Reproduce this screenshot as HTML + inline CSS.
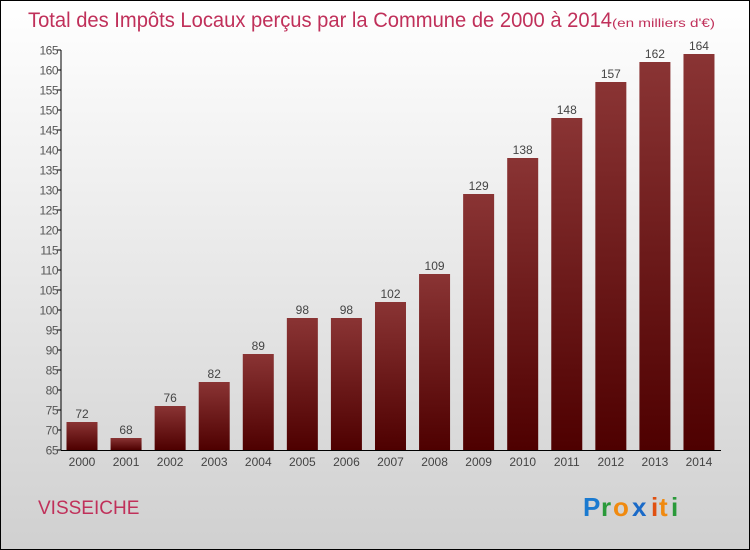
<!DOCTYPE html>
<html><head><meta charset="utf-8"><style>
body{margin:0}
svg{display:block;font-family:"Liberation Sans",sans-serif}
</style></head><body>
<svg width="750" height="550" viewBox="0 0 750 550">
<defs>
<linearGradient id="bg" x1="0" y1="0" x2="0" y2="1"><stop offset="0" stop-color="#ffffff"/><stop offset="1" stop-color="#d0d0d0"/></linearGradient>
<linearGradient id="bar" x1="0" y1="0" x2="0" y2="1"><stop offset="0" stop-color="#8a3434"/><stop offset="1" stop-color="#4e0000"/></linearGradient>
</defs>
<rect x="0.5" y="0.5" width="749" height="549" fill="url(#bg)" stroke="#000"/>
<text x="28" y="27" font-size="21" fill="#c0305a" textLength="584" lengthAdjust="spacingAndGlyphs">Total des Impôts Locaux perçus par la Commune de 2000 à 2014</text>
<text x="612" y="27" font-size="12" fill="#c0305a" textLength="103" lengthAdjust="spacingAndGlyphs">(en milliers d'€)</text>
<g id="yaxis"></g>
<g id="bars"></g>
<g id="xaxis"></g>
<text x="38" y="514" font-size="19" fill="#c0305a">VISSEICHE</text>
<g font-size="26" font-weight="bold">
<text x="583" y="516" fill="#1a7ad0">P</text><text x="601" y="516" fill="#2a9a3a">r</text><text x="613" y="516" fill="#f08a10">o</text><text x="632" y="516" fill="#1a6ac8">x</text><text x="651" y="516" fill="#e05010">i</text><text x="659" y="516" fill="#f08a10">t</text><text x="671" y="516" fill="#2a9a3a">i</text>
</g>
</svg>
<script>
const categories=["2000","2001","2002","2003","2004","2005","2006","2007","2008","2009","2010","2011","2012","2013","2014"];
const values=[72,68,76,82,89,98,98,102,109,129,138,148,157,162,164];
const yTicks=[65,70,75,80,85,90,95,100,105,110,115,120,125,130,135,140,145,150,155,160,165];
const NS="http://www.w3.org/2000/svg";
const y=v=>450-(v-65)*4;
const x=i=>82+i*44.07;
function mk(t,a,p,txt){const e=document.createElementNS(NS,t);for(const k in a)e.setAttribute(k,a[k]);if(txt!==undefined)e.textContent=txt;p.appendChild(e);return e;}
const ya=document.getElementById('yaxis'),ba=document.getElementById('bars'),xa=document.getElementById('xaxis');
const yl=mk('line',{x1:61,y1:50,x2:61,y2:450,stroke:'#000'},ya);


yTicks.forEach(v=>{
 const tk=mk('line',{x1:57,x2:61,y1:y(v),y2:y(v),stroke:'#000'},ya);
 
 
 const t=mk('text',{x:58,y:y(v)+4.5,'font-size':12,fill:'#555','text-anchor':'end','letter-spacing':'-0.5'},ya,v);
 
 
});
values.forEach((v,i)=>{
 const r=mk('rect',{x:x(i)-15.5,y:y(v),width:31,height:450-y(v),fill:'url(#bar)'},ba);
 
 
 const t=mk('text',{x:x(i),y:y(v)-4,'font-size':12,fill:'#444','text-anchor':'middle'},ba,v);
 
 
 const c=mk('text',{x:x(i),y:466,'font-size':12,fill:'#444','text-anchor':'middle'},xa,categories[i]);
 
 
});
const xl=mk('line',{x1:61,y1:450.5,x2:721,y2:450.5,stroke:'#000'},xa);


</script>
</body></html>
